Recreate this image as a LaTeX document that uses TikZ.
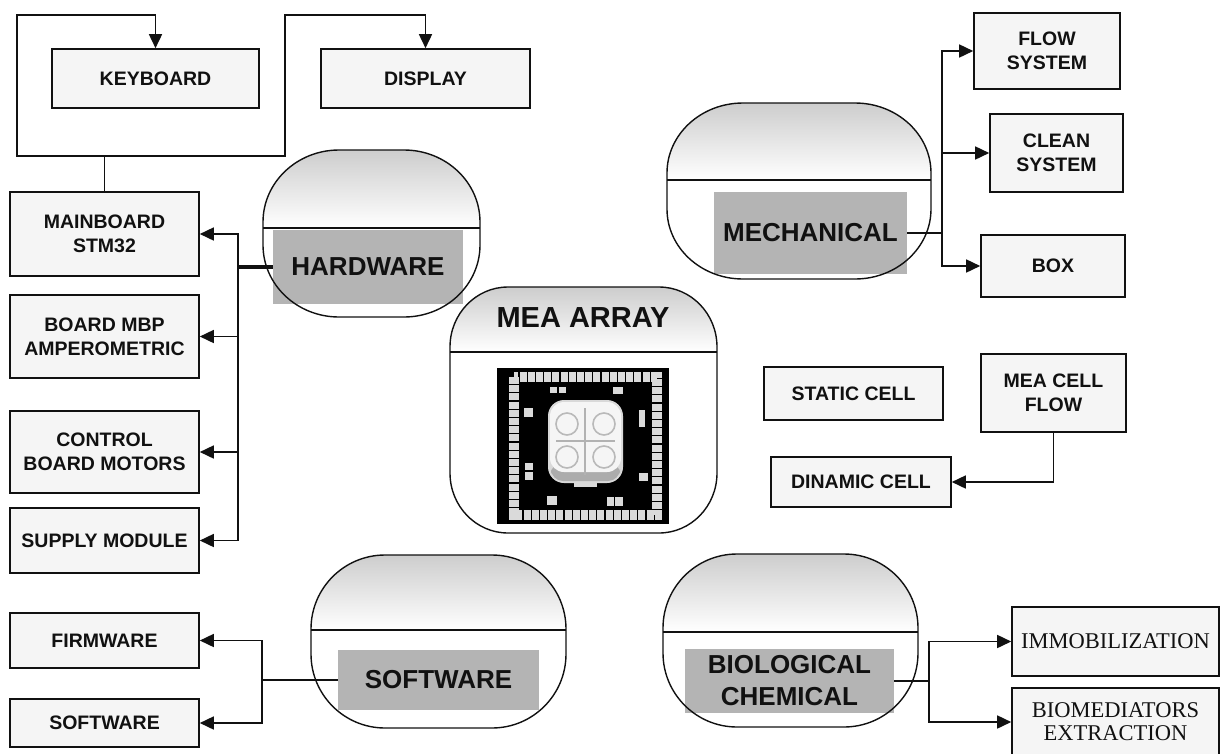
\documentclass[tikz,border=0pt]{standalone}
\usepackage{fontspec}
\setmainfont{Liberation Sans}
\newfontfamily\timesf{Liberation Serif}
\usetikzlibrary{arrows.meta}
\definecolor{boxfill}{HTML}{F5F5F5}
\definecolor{lbl}{HTML}{B4B4B4}
\definecolor{ink}{HTML}{111111}
\definecolor{topg}{HTML}{CDCDCD}
\definecolor{pad}{HTML}{DADADA}
\tikzset{
  box/.style={draw=ink, line width=1.6pt, fill=boxfill, inner sep=0pt, align=center,
    font=\bfseries\fontsize{19.5}{24}\selectfont, text=ink},
  tbox/.style={box, font=\timesf\fontsize{22.5}{23}\selectfont},
  lab/.style={fill=lbl, inner sep=0pt, align=center,
    font=\bfseries\fontsize{26}{32}\selectfont, text=ink},
  conn/.style={draw=ink, line width=1.6pt},
  arr/.style={conn, -{Triangle[length=14pt,width=13pt]}},
  outl/.style={draw=ink, line width=1.4pt},
}
% rounded "pill" outline: x1 y1 x2 y2 rx ry
\newcommand\pillpath[6]{(#1,#2+#6) arc[start angle=180, end angle=90, x radius=#5pt, y radius=#6pt]
  -- (#3-#5,#2) arc[start angle=90, end angle=0, x radius=#5pt, y radius=#6pt]
  -- (#3,#4-#6) arc[start angle=0, end angle=-90, x radius=#5pt, y radius=#6pt]
  -- (#1+#5,#4) arc[start angle=270, end angle=180, x radius=#5pt, y radius=#6pt] -- cycle}
% background: x1 y1 x2 y2 divider rx ry
\newcommand\pillbg[7]{%
  \fill[white] \pillpath{#1}{#2}{#3}{#4}{#6}{#7};
  \begin{scope}
    \clip \pillpath{#1}{#2}{#3}{#4}{#6}{#7};
    \shade[top color=topg, bottom color=white] (#1,#2) rectangle (#3,#5);
  \end{scope}
  \draw[outl] (#1,#5) -- (#3,#5);
}
\newcommand\pillln[6]{\draw[outl] \pillpath{#1}{#2}{#3}{#4}{#5}{#6};}
\begin{document}
\begin{tikzpicture}[x=1pt,y=-1pt]
\useasboundingbox (0,0) rectangle (1221,753);

% ---------- rounded group shapes (backgrounds) ----------
\pillbg{263}{150}{480}{317}{228}{76}{72}
\pillbg{667}{103}{931}{279}{180}{76}{70}
\pillbg{450}{287}{717}{533}{352}{58}{60}
\pillbg{311}{555}{566}{728}{630}{74}{74}
\pillbg{663}{554}{918}{727}{632}{74}{74}

% ---------- group labels ----------
\node[lab, minimum width=190pt, minimum height=74pt] (hw) at (368,267) {HARDWARE};
\node[lab, minimum width=193pt, minimum height=82pt] (mech) at (810.5,233) {MECHANICAL};
\node[lab, minimum width=201pt, minimum height=60pt] (sw) at (438.5,680) {SOFTWARE};
\node[lab, minimum width=209pt, minimum height=64pt] (bio) at (789.5,681) {BIOLOGICAL\\CHEMICAL};
\node[inner sep=0pt, font=\bfseries\fontsize{29}{34}\selectfont, text=ink] (mea) at (583,318) {MEA ARRAY};

% ---------- MEA chip picture ----------
\node[fill=black, inner sep=0pt, minimum width=172pt, minimum height=156pt] (chip) at (583,446) {};
\draw[pad, line width=10pt, dash pattern=on 7pt off 1.2pt] (514,377) rectangle (657,515);
\foreach \a/\b/\c/\d in {550/387/557/393, 559/387/566/393, 613/387/623/394, 524/408/533/417,
  639/410/645/427, 525/463/533/470, 525/472/533/480, 639/473/648/481, 547/496/557/505,
  607/497/614/506, 615/497/623/506, 574/483/597/487}
  \fill[pad] (\a,\b) rectangle (\c,\d);
\fill[gray!30, rounded corners=16pt] (548,400) rectangle (623,483);
\fill[gray!65, rounded corners=12pt] (551,462) rectangle (620,481);
\fill[gray!8, rounded corners=14pt] (550,402) rectangle (621,472);
\foreach \cx/\cy in {567/424, 604/424, 567/457, 604/457}
  \draw[gray!55, line width=1.6pt] (\cx,\cy) circle (11pt);
\draw[gray!60, line width=1.2pt] (585,408) -- (585,475);
\draw[gray!60, line width=1.2pt] (556,441) -- (615,441);

% ---------- outlines of rounded shapes ----------
\pillln{263}{150}{480}{317}{76}{72}
\pillln{667}{103}{931}{279}{76}{70}
\pillln{450}{287}{717}{533}{58}{60}
\pillln{311}{555}{566}{728}{74}{74}
\pillln{663}{554}{918}{727}{74}{74}

% ---------- boxes ----------
\node[box, minimum width=207pt, minimum height=59pt] (keyboard) at (155.5,78.5) {KEYBOARD};
\node[box, minimum width=209pt, minimum height=59pt] (display) at (425.5,78.5) {DISPLAY};
\node[box, minimum width=189pt, minimum height=84pt] (mainboard) at (104.5,234) {MAINBOARD\\STM32};
\node[box, minimum width=189pt, minimum height=83pt] (mbp) at (104.5,336.5) {BOARD MBP\\AMPEROMETRIC};
\node[box, minimum width=189pt, minimum height=82pt] (control) at (104.5,452) {CONTROL\\BOARD MOTORS};
\node[box, minimum width=189pt, minimum height=65pt] (supply) at (104.5,540.5) {SUPPLY MODULE};
\node[box, minimum width=189pt, minimum height=55pt] (firmware) at (104.5,640.5) {FIRMWARE};
\node[box, minimum width=189pt, minimum height=48pt] (softsmall) at (104.5,723) {SOFTWARE};
\node[box, minimum width=146pt, minimum height=76pt] (flow) at (1047,51) {FLOW\\SYSTEM};
\node[box, minimum width=133pt, minimum height=78pt] (clean) at (1056.5,153) {CLEAN\\SYSTEM};
\node[box, minimum width=144pt, minimum height=62pt] (boxb) at (1053,266) {BOX};
\node[box, minimum width=179pt, minimum height=53pt] (static) at (853.5,393.5) {STATIC CELL};
\node[box, minimum width=145pt, minimum height=78pt] (meacell) at (1053.5,393) {MEA CELL\\FLOW};
\node[box, minimum width=180pt, minimum height=50pt] (dinamic) at (861,482) {DINAMIC CELL};
\node[tbox, minimum width=207pt, minimum height=69pt] (immob) at (1115.5,641.5) {IMMOBILIZATION};
\node[tbox, minimum width=207pt, minimum height=68pt] (biomed) at (1115.5,722) {BIOMEDIATORS\\EXTRACTION};

% ---------- connectors ----------
\coordinate (lb) at (17,156);
\coordinate (tl) at (17,15);
\coordinate (rb) at (285,156);
\coordinate (tr) at (285,15);
\draw[arr] (mainboard.north) -- (mainboard.north |- lb) -- (lb) -- (tl) -| (keyboard.north);
\draw[arr] (mainboard.north |- lb) -- (rb) -- (tr) -| (display.north);

\coordinate (hwbus) at (238,267);
\draw[conn, line width=4pt] (hw.west) -- (hwbus);
\foreach \n in {mainboard,mbp,control,supply}
  \draw[arr] (hwbus) |- (\n.east);

\coordinate (mbus) at (942,233);
\draw[conn, line width=2.4pt] (mech.east) -- (mbus);
\foreach \n in {flow,clean,boxb}
  \draw[arr] (mbus) |- (\n.west);

\coordinate (sbus) at (262,680);
\draw[conn] (sw.west) -- (sbus);
\foreach \n in {firmware,softsmall}
  \draw[arr] (sbus) |- (\n.east);

\coordinate (bbus) at (929,681);
\draw[conn] (bio.east) -- (bbus);
\foreach \n in {immob,biomed}
  \draw[arr] (bbus) |- (\n.west);

\draw[arr] (meacell.south) |- (dinamic.east);
\end{tikzpicture}
\end{document}
